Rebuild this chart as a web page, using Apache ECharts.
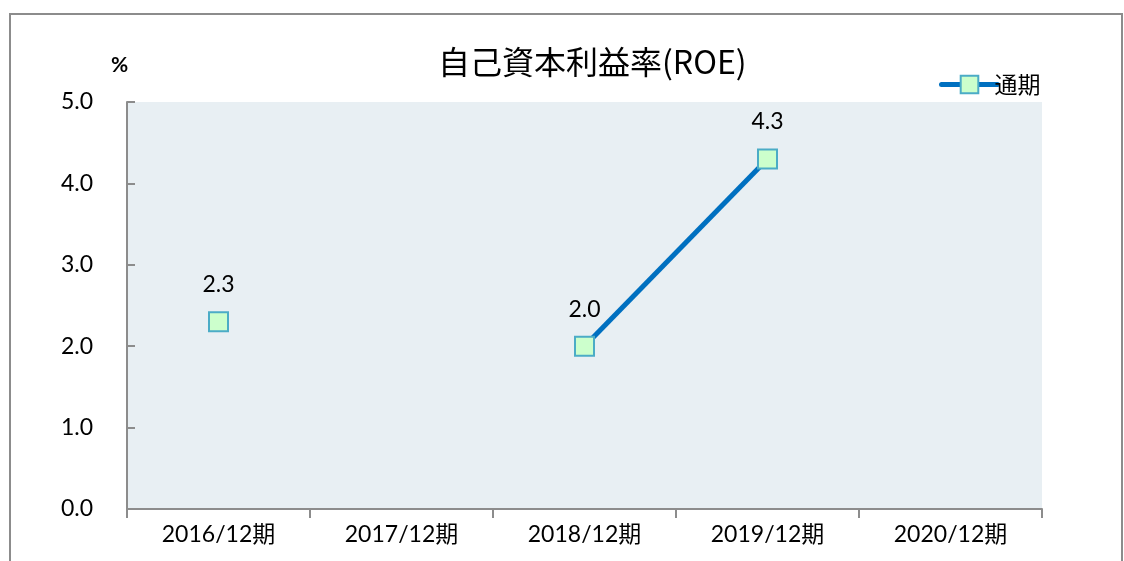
<!DOCTYPE html>
<html>
<head>
<meta charset="utf-8">
<script src="https://cdn.jsdelivr.net/npm/echarts@6/dist/echarts.min.js"></script>
<style>html,body{margin:0;padding:0;background:#fff;}#c{width:1124px;height:561px;}</style>
</head>
<body>
<div id="c"></div>
<script>
const categories = ['2016/12期', '2017/12期', '2018/12期', '2019/12期', '2020/12期'];
const roeValues = [2.3, null, 2.0, 4.3, null];
const seriesName = '通期';
const titleText = '自己資本利益率(ROE)';
const unitText = '%';

const numFont = 'Lato, "Noto Sans CJK JP", sans-serif';
const chart = echarts.init(document.getElementById('c'));
chart.setOption({
  animation: false,
  backgroundColor: '#fff',
  title: {
    text: titleText, left: 433, top: 41,
    textStyle: { fontSize: 32, fontWeight: 'normal', color: '#000', fontFamily: '"Noto Sans CJK JP", sans-serif' }
  },
  legend: {
    left: 934, top: 68, itemWidth: 56, itemHeight: 22, itemGap: 4,
    data: [seriesName],
    lineStyle: { width: 5, cap: 'round' },
    textStyle: { fontSize: 23, color: '#000', fontFamily: '"Noto Sans CJK JP", sans-serif', padding: [0, 0, 0, -8] }
  },
  graphic: [
    { type: 'rect', shape: { x: 10, y: 14, width: 1112, height: 600 }, style: { fill: 'none', stroke: '#8c8c8c', lineWidth: 2 }, silent: true },
    { type: 'text', left: 111, top: 55, style: { text: unitText, fontSize: 21, fontWeight: 'bold', fill: '#000', fontFamily: numFont } }
  ],
  grid: { left: 127, right: 82, top: 102, bottom: 52, show: true, backgroundColor: '#E8EFF3', borderWidth: 0 },
  xAxis: {
    type: 'category', data: categories, boundaryGap: true,
    axisLine: { lineStyle: { color: '#8c8c8c', width: 2 } },
    axisTick: { show: true, length: 9, lineStyle: { color: '#8c8c8c', width: 2 } },
    axisLabel: { fontSize: 23, color: '#000', margin: 14, fontFamily: numFont }
  },
  yAxis: {
    type: 'value', min: 0, max: 5, interval: 1,
    axisLine: { show: true, lineStyle: { color: '#8c8c8c', width: 2 } },
    axisTick: { show: true, inside: true, length: 8, lineStyle: { color: '#8c8c8c', width: 2 } },
    splitLine: { show: false },
    axisLabel: { fontSize: 23, color: '#000', margin: 34, fontFamily: numFont, formatter: v => v.toFixed(1) }
  },
  series: [{
    name: seriesName, type: 'line', data: roeValues, connectNulls: false,
    symbol: 'rect', symbolSize: 19,
    lineStyle: { color: '#0070C0', width: 5 },
    itemStyle: { color: '#CCFFCC', borderColor: '#4BACC6', borderWidth: 2 },
    label: { show: true, position: 'top', distance: 15, fontSize: 23, color: '#000', fontFamily: numFont, formatter: p => p.value == null ? '' : p.value.toFixed(1) }
  }]
});
</script>
</body>
</html>
